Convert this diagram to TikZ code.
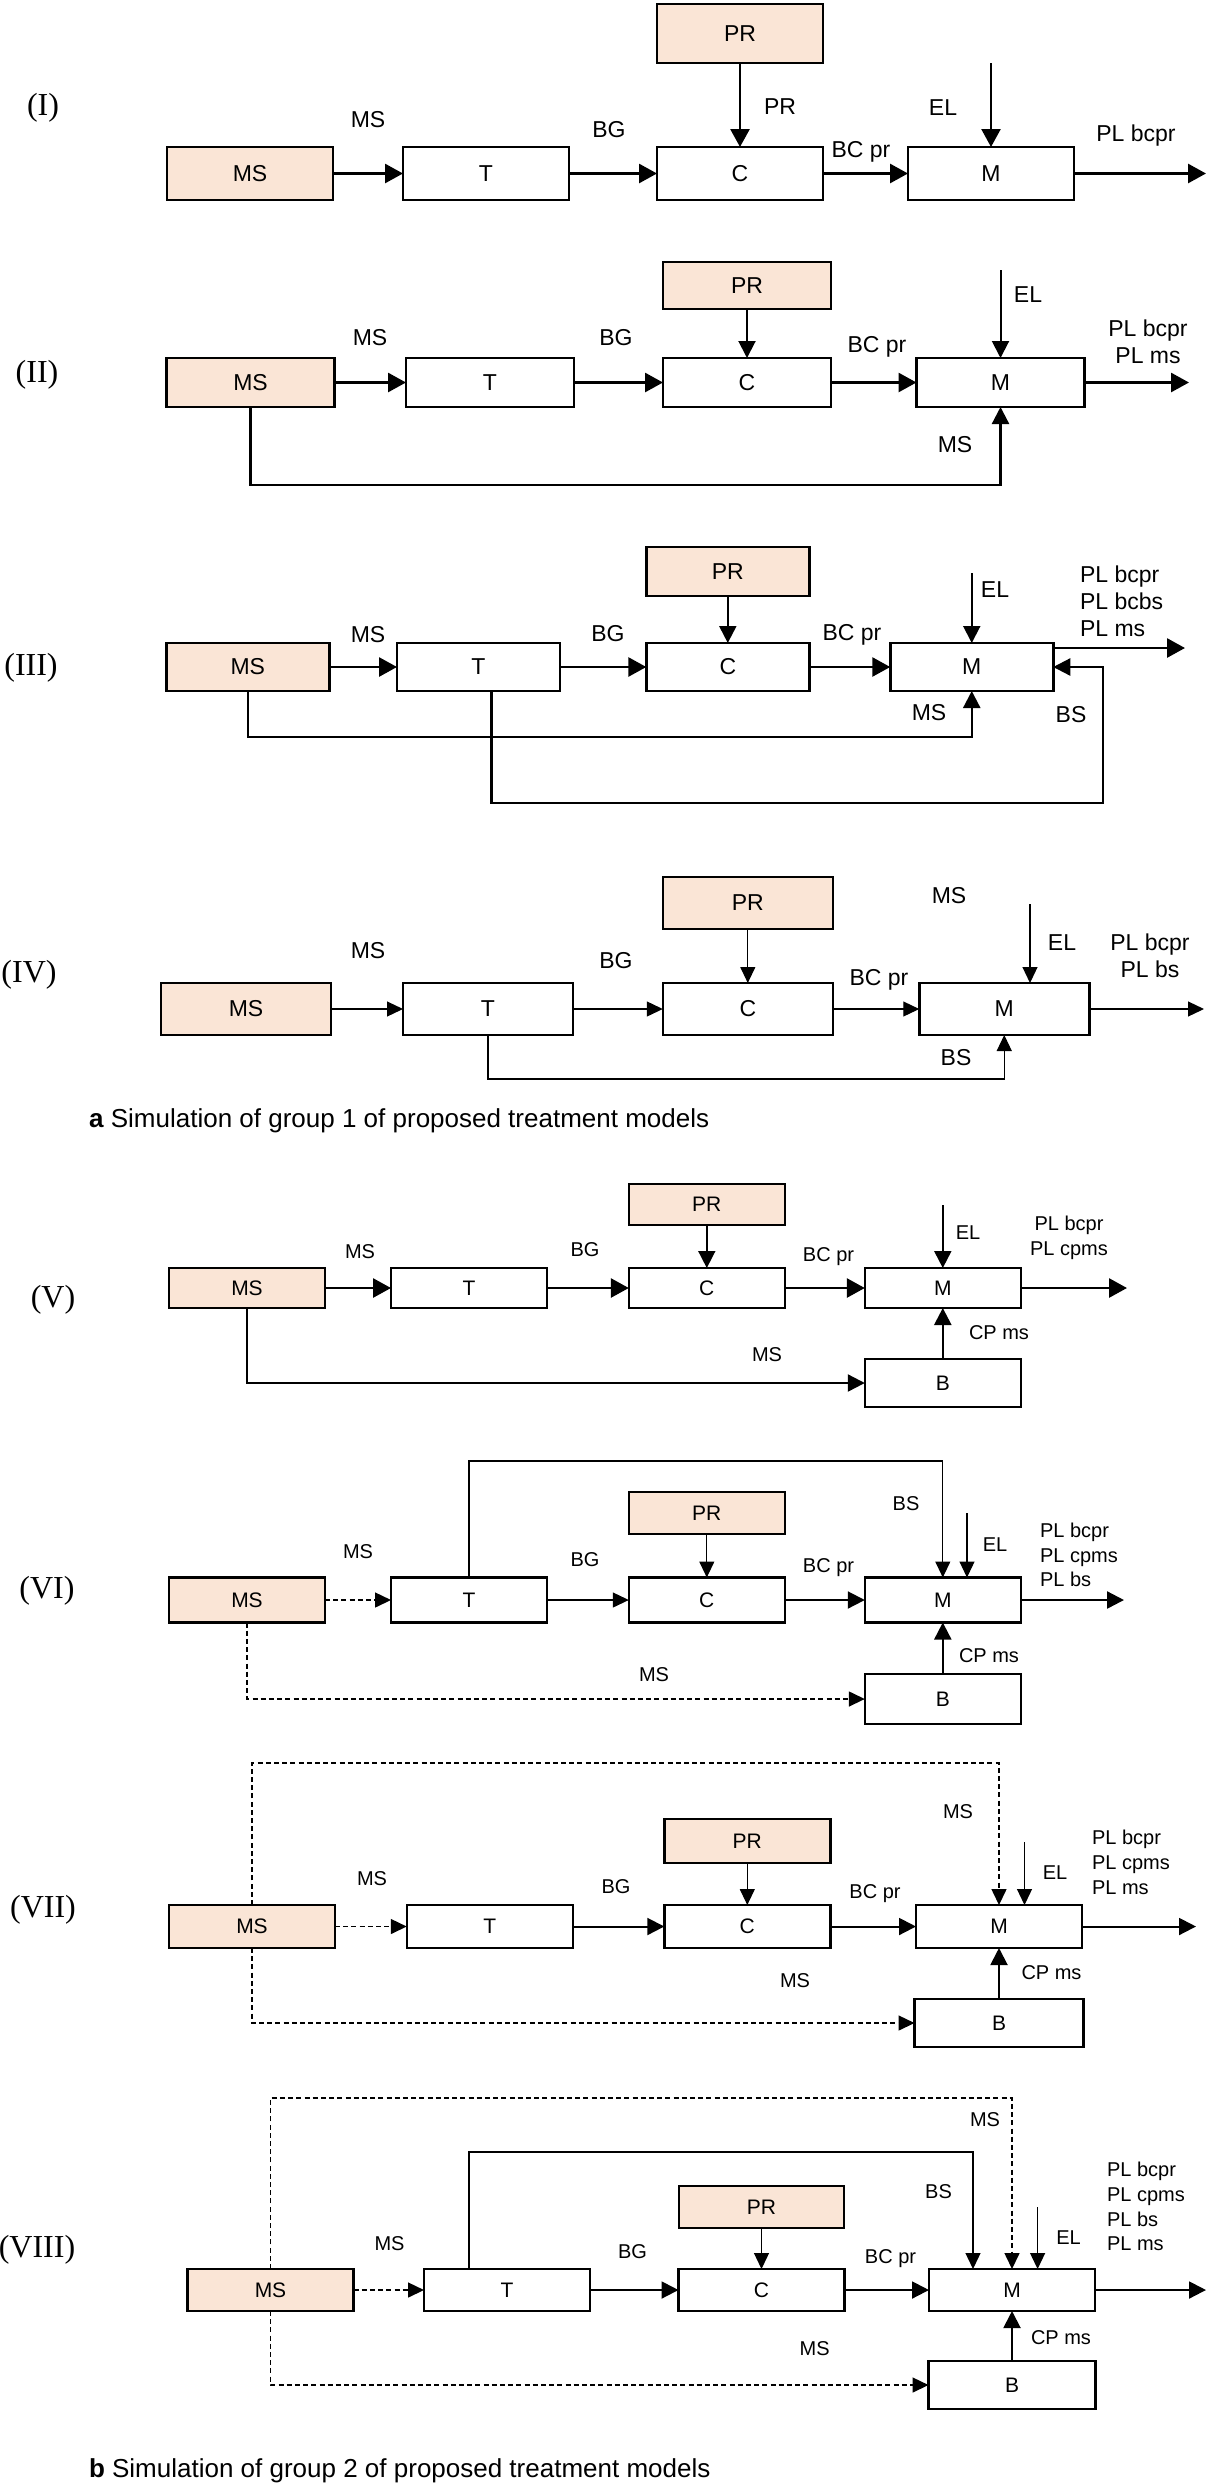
\documentclass[tikz,border=0pt]{standalone}
\usepackage{fontspec}
\setmainfont{Liberation Sans}
\newfontfamily\numfont{Liberation Serif}
\usetikzlibrary{arrows.meta}
\definecolor{peach}{RGB}{250,229,214}

\begin{document}
\begin{tikzpicture}[x=0.5pt, y=-0.5pt,
    every node/.style = {inner sep=0pt, outer sep=0pt},
          box/.style = {draw, line width=1.25pt, fill=white},
         feed/.style = {box, fill=peach},
          num/.style = {font=\numfont\fontsize{16}{19}\selectfont},
        heavy/.style = {-{Triangle[length=9pt,width=9.5pt]}, line width=1.4pt},
       medium/.style = {-{Triangle[length=8.5pt,width=8.5pt]}, line width=1pt},
        light/.style = {-{Triangle[length=8pt,width=7.5pt]}, line width=0.6pt},
       broken/.style = {light, line width=0.75pt, dash pattern=on 2.5pt off 1.6pt}]%
  \useasboundingbox (0,0) rectangle (1208,2484);
  % group a
  \begin{scope}[every node/.append style={font=\fontsize{11.5}{13.5}\selectfont}]
  % model (I)
  \begin{scope}[box/.append style={minimum width=83pt, minimum height=26.5pt}]
  \node [num]  (n1)  at (43,108)    {(I)};
  \node [feed] (ms1) at (250,173.5) {MS};
  \node [box]  (t1)  at (486,173.5) {T};
  \node [box]  (c1)  at (740,173.5) {C};
  \node [box]  (m1)  at (991,173.5) {M};
  \node [feed, minimum height=29.5pt] (pr1) at (740,33.5) {PR};
  \coordinate (el1)  at (991,63);
  \coordinate (out1) at (1206,173.5);
  \draw [heavy] (ms1) -- (t1);
  \draw [heavy] (t1) -- (c1);
  \draw [heavy] (c1) -- (m1);
  \draw [heavy] (m1) -- (out1);
  \draw [heavy] (pr1) -- (c1);
  \draw [heavy, line width=1.2pt] (el1) -- (m1.north);
  \node (msl1) at (368,120)  {MS};
  \node (bgl1) at (609,130)  {BG};
  \node (prl1) at (780,107)  {PR};
  \node (ell1) at (943,108)  {EL};
  \node (bcl1) at (861,152)  {BC pr};
  \node (pll1) at (1136,136) {PL bcpr};
  \end{scope}
  % model (II)
  \begin{scope}[box/.append style={minimum width=84pt, minimum height=24.5pt}]
  \node [num]  (n2)  at (37,375)     {(II)};
  \node [feed] (ms2) at (250.5,382.5) {MS};
  \node [box]  (t2)  at (490,382.5)   {T};
  \node [box]  (c2)  at (747,382.5)   {C};
  \node [box]  (m2)  at (1000.5,382.5) {M};
  \node [feed, minimum height=23.5pt] (pr2) at (747,285.5) {PR};
  \coordinate (el2)  at (1000.5,270);
  \coordinate (out2) at (1189,382.5);
  \coordinate (bot2) at (600,485);
  \draw [heavy] (ms2) -- (t2);
  \draw [heavy] (t2) -- (c2);
  \draw [heavy] (c2) -- (m2);
  \draw [heavy] (m2) -- (out2);
  \draw [medium] (pr2) -- (c2);
  \draw [medium] (el2) -- (m2.north);
  \draw [medium, line width=1.15pt] (ms2.south) |- (bot2) -| (m2.south);
  \node (msl2) at (370,338)  {MS};
  \node (bgl2) at (616,338)  {BG};
  \node (bcl2) at (877,347)  {BC pr};
  \node (ell2) at (1028,295) {EL};
  \node [align=center] (pll2) at (1148,341.5) {PL bcpr\\PL ms};
  \node (msb2) at (955,445)  {MS};
  \end{scope}
  % model (III)
  \begin{scope}[box/.append style={minimum width=81.5pt, minimum height=24pt}]
  \node [num]  (n3)  at (31,668)      {(III)};
  \node [feed] (ms3) at (247.75,667)  {MS};
  \node [box]  (t3)  at (478.5,667)   {T};
  \node [box]  (c3)  at (727.8,667)   {C};
  \node [box]  (m3)  at (971.75,667)  {M};
  \node [feed, minimum height=24.5pt] (pr3) at (727.8,571.5) {PR};
  \coordinate (el3)  at (971.75,573);
  \coordinate (out3) at (1185,648);
  \coordinate (bot3) at (600,737);
  \coordinate (low3) at (800,803);
  \coordinate (bs3)  at (1103,667);
  \draw [heavy] (ms3) -- (t3);
  \draw [heavy] (t3) -- (c3);
  \draw [heavy] (c3) -- (m3);
  \draw [heavy] ([yshift=9.5pt]m3.east) -- (out3);
  \draw [medium] (pr3) -- (c3);
  \draw [medium] (el3) -- (m3.north);
  \draw [medium, line width=1.15pt] (ms3.south) |- (bot3) -| (m3.south);
  \draw [medium, line width=1.15pt] ([xshift=6.5pt]t3.south) |- (low3) -| (bs3) -- (m3.east);
  \node (msl3) at (368,635)  {MS};
  \node (bgl3) at (608,634)  {BG};
  \node (bcl3) at (852,635)  {BC pr};
  \node (ell3) at (995,590)  {EL};
  \node [align=left, anchor=west] (pll3) at (1080,601) {PL bcpr\\PL bcbs\\PL ms};
  \node (msb3) at (929,713)  {MS};
  \node (bsl3) at (1071,715) {BS};
  \end{scope}
  % model (IV)
  \begin{scope}[box/.append style={minimum width=85pt, minimum height=26pt}]
  \node [num]  (n4)  at (29,975)      {(IV)};
  \node [feed] (ms4) at (246,1009)    {MS};
  \node [box]  (t4)  at (488,1009)    {T};
  \node [box]  (c4)  at (747.8,1009)  {C};
  \node [box]  (m4)  at (1004.25,1009) {M};
  \node [feed] (pr4) at (747.8,903)   {PR};
  \coordinate (el4)  at (1030,904);
  \coordinate (out4) at (1204,1009);
  \coordinate (low4) at (700,1079);
  \draw [light] (ms4) -- (t4);
  \draw [light] (t4) -- (c4);
  \draw [light] (c4) -- (m4);
  \draw [light] (m4) -- (out4);
  \draw [light] (pr4) -- (c4);
  \draw [light] (el4) -- (el4 |- m4.north);
  \draw [light] (t4.south) |- (low4) -| (m4.south);
  \node (mst4) at (949,896)  {MS};
  \node (msl4) at (368,951)  {MS};
  \node (bgl4) at (616,961)  {BG};
  \node (bcl4) at (879,980)  {BC pr};
  \node (ell4) at (1062,943) {EL};
  \node [align=center] (pll4) at (1150,956) {PL bcpr\\PL bs};
  \node (bsl4) at (956,1058) {BS};
  \end{scope}
  \node [anchor=west, font=\fontsize{13}{15}\selectfont] (capa) at (89,1121)
        {\textbf{a} Simulation of group 1 of proposed treatment models};
  \end{scope}
  % group b
  \begin{scope}[every node/.append style={font=\fontsize{10}{12.4}\selectfont},
                box/.append style={font=\fontsize{10.5}{12}\selectfont}]
  % model (V)
  \begin{scope}[box/.append style={minimum width=78pt, minimum height=20pt}]
  \node [num]  (n5)  at (53,1300)     {(V)};
  \node [feed] (ms5) at (247,1288)    {MS};
  \node [box]  (t5)  at (469,1288)    {T};
  \node [box]  (c5)  at (706.8,1288)  {C};
  \node [box]  (m5)  at (942.8,1288)  {M};
  \node [box, minimum height=24pt]   (b5)  at (942.8,1383)  {B};
  \node [feed, minimum height=20.5pt] (pr5) at (706.8,1204.5) {PR};
  \coordinate (el5)  at (942.8,1205);
  \coordinate (out5) at (1127,1288);
  \draw [heavy] (ms5) -- (t5);
  \draw [heavy] (t5) -- (c5);
  \draw [heavy] (c5) -- (m5);
  \draw [heavy] (m5) -- (out5);
  \draw [medium, line width=0.8pt] (pr5) -- (c5);
  \draw [medium] (el5) -- (m5.north);
  \draw [medium, line width=1.2pt] (b5) -- (m5);
  \draw [medium, line width=1.1pt] (ms5.south) |- (b5.west);
  \node (msl5) at (360,1252)   {MS};
  \node (bgl5) at (585,1250)   {BG};
  \node (bcl5) at (828.5,1257) {BC pr};
  \node (ell5) at (968,1233)   {EL};
  \node [align=center] (pll5) at (1069,1237.5) {PL bcpr\\PL cpms};
  \node (cpl5) at (999,1333)   {CP ms};
  \node (msb5) at (767,1355)   {MS};
  \end{scope}
  % model (VI)
  \begin{scope}[box/.append style={minimum width=78pt, minimum height=22.5pt}]
  \node [num]  (n6)  at (47,1591)     {(VI)};
  \node [feed] (ms6) at (247,1600)    {MS};
  \node [box]  (t6)  at (469,1600)    {T};
  \node [box]  (c6)  at (706.8,1600)  {C};
  \node [box]  (m6)  at (942.8,1600)  {M};
  \node [box, minimum height=25pt] (b6)  at (942.8,1699) {B};
  \node [feed, minimum height=21pt] (pr6) at (706.8,1513) {PR};
  \coordinate (top6) at (700,1461);
  \coordinate (el6)  at (967,1513);
  \coordinate (out6) at (1124,1600);
  \draw [broken] (ms6) -- (t6);
  \draw [light] (t6) -- (c6);
  \draw [medium] (c6) -- (m6);
  \draw [medium, line width=1.2pt] (m6) -- (out6);
  \draw [light] (pr6) -- (c6);
  \draw [light] (el6) -- (el6 |- m6.north);
  \draw [light] (t6.north) |- (top6) -| (m6.north);
  \draw [medium] (b6) -- (m6);
  \draw [broken] (ms6.south) |- (b6.west);
  \node (msl6) at (358,1552)   {MS};
  \node (bgl6) at (585,1560)   {BG};
  \node (bcl6) at (828.5,1568) {BC pr};
  \node (bsl6) at (906,1504)   {BS};
  \node (ell6) at (995,1545)   {EL};
  \node [align=left, anchor=west] (pll6) at (1040,1555) {PL bcpr\\PL cpms\\PL bs};
  \node (cpl6) at (989,1656)   {CP ms};
  \node (msb6) at (654,1675)   {MS};
  \end{scope}
  % model (VII)
  \begin{scope}[box/.append style={minimum width=83pt, minimum height=21.5pt}]
  \node [num]  (n7)  at (43,1910)     {(VII)};
  \node [feed] (ms7) at (252,1926.5)  {MS};
  \node [box]  (t7)  at (489.75,1926.5) {T};
  \node [box]  (c7)  at (747.3,1926.5) {C};
  \node [box]  (m7)  at (999,1926.5)  {M};
  \node [box, minimum width=84.5pt, minimum height=24pt] (b7) at (999,2023) {B};
  \node [feed, minimum height=22pt] (pr7) at (747.3,1841) {PR};
  \coordinate (top7) at (600,1763);
  \coordinate (el7)  at (1024.5,1842);
  \coordinate (out7) at (1196,1926.5);
  \draw [broken] (ms7) -- (t7);
  \draw [medium] (t7) -- (c7);
  \draw [medium] (c7) -- (m7);
  \draw [medium] (m7) -- (out7);
  \draw [light] (pr7) -- (c7);
  \draw [light] (el7) -- (el7 |- m7.north);
  \draw [broken] (ms7.north) |- (top7) -| (m7.north);
  \draw [medium] (b7) -- (m7);
  \draw [broken] (ms7.south) |- (b7.west);
  \node (mst7) at (958,1812)    {MS};
  \node (msl7) at (372,1879)    {MS};
  \node (bgl7) at (616,1887)    {BG};
  \node (bcl7) at (875,1894)    {BC pr};
  \node (ell7) at (1055,1873)   {EL};
  \node [align=left, anchor=west] (pll7) at (1092,1862.5) {PL bcpr\\PL cpms\\PL ms};
  \node (cpl7) at (1051.5,1973) {CP ms};
  \node (msb7) at (795,1981)    {MS};
  \end{scope}
  % model (VIII)
  \begin{scope}[box/.append style={minimum width=83pt, minimum height=21pt}]
  \node [num]  (n8)  at (37,2250)     {(VIII)};
  \node [feed] (ms8) at (270.5,2290)  {MS};
  \node [box]  (t8)  at (507,2290)    {T};
  \node [box]  (c8)  at (761.5,2290)  {C};
  \node [box]  (m8)  at (1012,2290)   {M};
  \node [box, minimum width=83.5pt, minimum height=24pt] (b8) at (1012,2385) {B};
  \node [feed, minimum width=82.5pt] (pr8) at (761.5,2207) {PR};
  \coordinate (top8) at (600,2098);
  \coordinate (bs8)  at (973,2152);
  \coordinate (el8)  at (1037.6,2207);
  \coordinate (out8) at (1206,2290);
  \draw [broken] (ms8) -- (t8);
  \draw [medium] (t8) -- (c8);
  \draw [medium] (c8) -- (m8);
  \draw [medium] (m8) -- (out8);
  \draw [light] (pr8) -- (c8);
  \draw [light] (el8) -- (el8 |- m8.north);
  \draw [broken] (ms8.north) |- (top8) -| (m8.north);
  \draw [light] ([xshift=-19pt]t8.north) |- (bs8) -- (bs8 |- m8.north);
  \draw [medium] (b8) -- (m8);
  \draw [broken] (ms8.south) |- (b8.west);
  \node (mst8) at (985,2120)    {MS};
  \node (bsl8) at (938.5,2192)  {BS};
  \node (ell8) at (1068.6,2238) {EL};
  \node [align=left, anchor=west] (pll8) at (1107,2206.5) {PL bcpr\\PL cpms\\PL bs\\PL ms};
  \node (msl8) at (389.5,2244)  {MS};
  \node (bgl8) at (632.6,2252)  {BG};
  \node (bcl8) at (890.5,2259)  {BC pr};
  \node (cpl8) at (1061,2338)   {CP ms};
  \node (msb8) at (814.6,2349)  {MS};
  \end{scope}
  \node [anchor=west, font=\fontsize{13}{15}\selectfont] (capb) at (89,2471)
        {\textbf{b} Simulation of group 2 of proposed treatment models};
  \end{scope}
\end{tikzpicture}
\end{document}
